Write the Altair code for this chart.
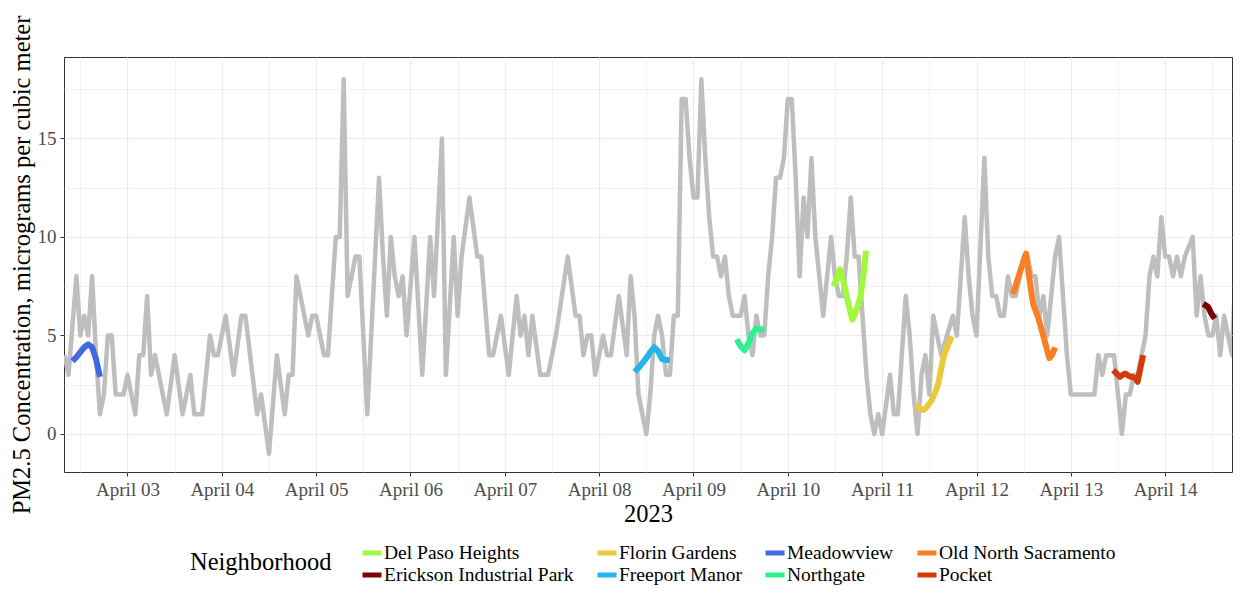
import altair as alt
import pandas as pd

# ---- city-wide hourly PM2.5 (hours since 2023-04-02 00:00) ----
gray_hours = [8, 9, 11, 12, 13, 14, 15, 16, 17, 18, 19, 20, 21, 23, 24, 26, 27, 28, 29, 30,
              31, 34, 36, 38, 40, 41, 43, 45, 46, 47, 49, 51, 53, 54, 57, 58, 60, 62, 64, 65,
              66, 67, 70, 71, 72, 74, 75, 77, 78, 79, 80, 82, 83, 85, 88, 89, 90, 91, 92, 93,
              94, 95, 97, 99, 101, 102, 104, 105, 107, 108, 109, 111, 113, 114, 116, 117, 119, 121, 123, 124,
              125, 126, 127, 129, 131, 133, 136, 138, 139, 140, 141, 142, 143, 145, 146, 147, 149, 151, 152, 153,
              154, 156, 157, 158, 159, 160, 161, 162, 163, 164, 165, 166, 167, 168, 169, 170, 171, 172, 173, 174,
              175, 176, 177, 178, 180, 181, 182, 183, 184, 185, 186, 187, 188, 189, 190, 191, 192, 193, 194, 195,
              196, 197, 198, 199, 200, 201, 202, 203, 204, 205, 206, 207, 208, 209, 210, 211, 212, 213, 214, 215,
              216, 218, 219, 220, 222, 223, 224, 225, 226, 227, 228, 229, 231, 234, 235, 237, 238, 239, 240, 242,
              243, 244, 245, 246, 247, 248, 249, 250, 251, 252, 253, 254, 255, 256, 257, 258, 260, 261, 263, 264,
              270, 271, 272, 273, 275, 276, 277, 278, 279, 280, 281, 282, 283, 284, 285, 286, 287, 288, 289, 290,
              291, 292, 293, 295, 296, 297, 298, 299, 300, 301, 302, 303, 305, 306, 307]
gray_pm25 = [4, 3, 8, 5, 6, 5, 8, 4, 1, 2, 5, 5, 2, 2, 3, 1, 4, 4, 7, 3,
             4, 1, 4, 1, 3, 1, 1, 5, 4, 4, 6, 3, 6, 6, 1, 2, -1, 4, 1, 3,
             3, 8, 5, 6, 6, 4, 4, 10, 10, 18, 7, 9, 9, 1, 13, 9, 6, 10, 8, 7,
             8, 5, 10, 3, 10, 7, 15, 3, 10, 6, 9, 12, 9, 9, 4, 4, 6, 3, 7, 5,
             6, 4, 6, 3, 3, 5, 9, 6, 6, 4, 5, 5, 3, 5, 4, 4, 7, 4, 8, 6,
             2, 0, 2, 5, 6, 5, 3, 3, 6, 6, 17, 17, 14, 12, 12, 18, 14, 11, 9, 9,
             8, 9, 7, 6, 6, 7, 5, 4, 6, 5, 5, 8, 10, 13, 13, 14, 17, 17, 13, 8,
             12, 10, 14, 10, 8, 6, 8, 10, 8, 7, 7, 9, 12, 9, 9, 6, 3, 1, 0, 1,
             0, 3, 1, 1, 7, 5, 2, 0, 3, 4, 2, 6, 4, 6, 5, 11, 8, 6, 5, 14,
             9, 7, 7, 6, 6, 8, 7, 7, 8, 9, 9, 8, 8, 6, 7, 5, 9, 10, 4, 2,
             2, 4, 3, 4, 4, 2, 0, 2, 2, 3, 3, 4, 5, 8, 9, 8, 11, 9, 9, 8,
             9, 8, 9, 10, 6, 8, 6, 5, 5, 6, 4, 6, 4, 9, 7]

# ---- neighborhood monitor segments ----
mv_hours = [10, 11, 12, 13, 14, 15, 16, 17]
mv_pm25 = [3.7, 3.9, 4.15, 4.4, 4.55, 4.4, 3.8, 2.9]
fm_hours = [153, 154, 155, 156, 157, 158, 159, 160, 161, 162]
fm_pm25 = [3.15, 3.35, 3.6, 3.85, 4.15, 4.4, 4.2, 3.8, 3.75, 3.75]
ng_hours = [179, 180, 181, 182, 183, 184, 185, 186]
ng_pm25 = [4.8, 4.45, 4.25, 4.6, 5.1, 5.35, 5.3, 5.3]
dph_hours = [203.6, 204.5, 205.3, 206.3, 207.3, 208.4, 209.5, 210.5, 211.2, 211.9]
dph_pm25 = [7.5, 7.9, 8.35, 7.6, 6.7, 5.8, 6.3, 7.0, 8.0, 9.3]
fg_hours = [224.6, 225.5, 226.5, 227.5, 228.6, 229.5, 230.3, 231.6, 232.6, 233.7]
fg_pm25 = [1.47, 1.3, 1.22, 1.4, 1.72, 2.1, 2.57, 3.9, 4.45, 4.96]
ons_hours = [249.3, 250.4, 251.5, 252.6, 253.5, 254.4, 255.7, 257.1, 258.5, 259.2, 260.0]
ons_pm25 = [7.1, 7.8, 8.5, 9.15, 7.8, 6.6, 5.9, 4.9, 3.85, 4.0, 4.4]
pk_hours = [274.8, 275.7, 276.5, 277.2, 277.8, 278.7, 279.5, 280.3, 281.0, 281.6, 282.4]
pk_pm25 = [3.24, 3.05, 2.9, 3.0, 3.07, 2.95, 2.9, 2.85, 2.65, 3.25, 4.0]
eip_hours = [297.7, 298.9, 299.8, 300.6]
eip_pm25 = [6.6, 6.45, 6.1, 5.85]

# legend order (alphabetical; the legend fills its 4 columns two entries each)
neighborhoods = ["Del Paso Heights", "Erickson Industrial Park", "Florin Gardens", "Freeport Manor",
                 "Meadowview", "Northgate", "Old North Sacramento", "Pocket"]
nb_colors = ["#A2F83B", "#7A0403", "#EAC93B", "#22B4EA",
             "#4169E1", "#2EF08F", "#FB7E24", "#D53A0A"]

day_tick_hours = [24, 48, 72, 96, 120, 144, 168, 192, 216, 240, 264, 288]
day_labels = ["April 03", "April 04", "April 05", "April 06", "April 07", "April 08",
              "April 09", "April 10", "April 11", "April 12", "April 13", "April 14"]
y_major = [0, 5, 10, 15]

gray_df = pd.DataFrame({"hour": gray_hours, "pm25": gray_pm25})
segs = [("Meadowview", mv_hours, mv_pm25), ("Freeport Manor", fm_hours, fm_pm25),
        ("Northgate", ng_hours, ng_pm25), ("Del Paso Heights", dph_hours, dph_pm25),
        ("Florin Gardens", fg_hours, fg_pm25), ("Old North Sacramento", ons_hours, ons_pm25),
        ("Pocket", pk_hours, pk_pm25), ("Erickson Industrial Park", eip_hours, eip_pm25)]
nb_df = pd.concat([pd.DataFrame({"Neighborhood": n, "hour": h, "pm25": v}) for n, h, v in segs],
                  ignore_index=True)

FONT = "Liberation Serif"
hours_arr = "[" + ",".join(str(h) for h in day_tick_hours) + "]"
labels_arr = "[" + ",".join("'" + s + "'" for s in day_labels) + "]"
ymaj_arr = "[" + ",".join(str(v) for v in y_major) + "]"

x_test = "indexof(" + hours_arr + ", datum.value) >= 0"
y_test = "indexof(" + ymaj_arr + ", datum.value) >= 0"

x_axis = alt.Axis(
    values=list(range(12, 306, 12)),
    labelExpr=x_test + " ? " + labels_arr + "[indexof(" + hours_arr + ", datum.value)] : ''",
    tickOpacity={"condition": {"test": x_test, "value": 1}, "value": 0},
    gridWidth={"condition": {"test": x_test, "value": 1.1}, "value": 0.7},
    labelPadding=4, titlePadding=3, labelFlush=False, labelOverlap=False,
)
y_axis = alt.Axis(
    values=[0, 2.5, 5, 7.5, 10, 12.5, 15, 17.5],
    labelExpr=y_test + " ? '' + datum.value : ''",
    tickOpacity={"condition": {"test": y_test, "value": 1}, "value": 0},
    gridWidth={"condition": {"test": y_test, "value": 1.1}, "value": 0.7},
    labelPadding=4, titlePadding=3, titleLimit=1000, titleFontSize=24.5,
    labelFlush=False, labelOverlap=False,
)

x_scale = alt.Scale(domain=[7.85, 305.0], nice=False, zero=False)
y_scale = alt.Scale(domain=[-1.93, 19.13], nice=False, zero=False)

x_enc = alt.X("hour:Q", scale=x_scale, axis=x_axis, title="2023")
y_enc = alt.Y("pm25:Q", scale=y_scale, axis=y_axis,
              title="PM2.5 Concentration, micrograms per cubic meter")

gray = alt.Chart(gray_df).mark_line(
    color="#BEBEBE", strokeWidth=4.5, strokeJoin="round", clip=True
).encode(x=x_enc, y=y_enc)

colored = alt.Chart(nb_df).mark_line(
    strokeWidth=6, strokeJoin="round", strokeCap="butt", clip=True
).encode(
    x=x_enc, y=y_enc,
    color=alt.Color(
        "Neighborhood:N",
        scale=alt.Scale(domain=neighborhoods, range=nb_colors),
        legend=alt.Legend(
            title="Neighborhood", orient="none", legendX=126, legendY=484,
            columns=4, columnPadding=13, rowPadding=0,
            titleOrient="left", titleAnchor="middle", titleBaseline="middle", titlePadding=28,
            titleFont=FONT, titleFontSize=24.5, titleFontWeight="normal", titleColor="black",
            labelFont=FONT, labelFontSize=19.5, labelColor="black", labelLimit=400, labelOffset=0,
            symbolType="stroke", symbolSize=361, symbolStrokeWidth=5,
        ),
    ),
)

chart = alt.layer(gray, colored).properties(
    width=1168, height=415,
    padding={"left": 56, "top": 49, "right": 1, "bottom": 116},
    autosize=alt.AutoSizeParams(type="none"),
).configure_view(
    stroke="#333333", strokeWidth=1
).configure_axis(
    domain=False, gridColor="#EBEBEB", tickColor="#333333", tickSize=4, tickWidth=1,
    labelFont=FONT, labelFontSize=19, labelColor="#4D4D4D",
    titleFont=FONT, titleFontSize=24.5, titleFontWeight="normal", titleColor="black",
)

chart.save("out.html", embed_options={"renderer": "svg", "actions": False})
